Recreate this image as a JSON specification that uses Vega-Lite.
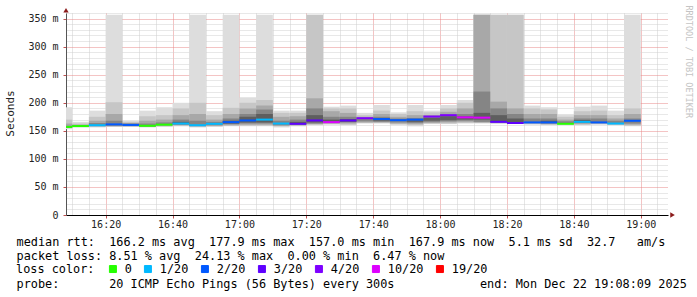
{
  "$schema": "https://vega.github.io/schema/vega-lite/v6.json",
  "width": 602,
  "height": 202,
  "autosize": {"type": "none"},
  "padding": {"left": 66, "top": 13, "right": 29, "bottom": 82},
  "background": "white",
  "config": {"view": {"stroke": null}, "font": "DejaVu Sans Mono"},
  "data": {
    "values": [
      {"t0": "2025-12-22T16:05:00Z", "t1": "2025-12-22T16:10:00Z", "min": 153, "max": 192, "l2lo": 155, "l2hi": 170, "l3lo": 155, "l3hi": 163, "l4lo": 155, "l4hi": 159, "l5lo": null, "l5hi": null, "med": 157.0, "loss": "0"},
      {"t0": "2025-12-22T16:10:00Z", "t1": "2025-12-22T16:15:00Z", "min": 156, "max": 166, "l2lo": 157, "l2hi": 163, "l3lo": 157, "l3hi": 161, "l4lo": 158, "l4hi": 160, "l5lo": null, "l5hi": null, "med": 158.5, "loss": "0"},
      {"t0": "2025-12-22T16:15:00Z", "t1": "2025-12-22T16:20:00Z", "min": 156, "max": 186, "l2lo": 157, "l2hi": 175, "l3lo": 158, "l3hi": 168, "l4lo": 159, "l4hi": 164, "l5lo": null, "l5hi": null, "med": 160, "loss": "1/20"},
      {"t0": "2025-12-22T16:20:00Z", "t1": "2025-12-22T16:25:00Z", "min": 157, "max": 357, "l2lo": 158, "l2hi": 201, "l3lo": 158, "l3hi": 180, "l4lo": 159, "l4hi": 168, "l5lo": null, "l5hi": null, "med": 161.5, "loss": "2/20"},
      {"t0": "2025-12-22T16:25:00Z", "t1": "2025-12-22T16:30:00Z", "min": 157, "max": 168, "l2lo": 158, "l2hi": 166, "l3lo": 158, "l3hi": 164, "l4lo": 159, "l4hi": 163, "l5lo": null, "l5hi": null, "med": 160.5, "loss": "2/20"},
      {"t0": "2025-12-22T16:30:00Z", "t1": "2025-12-22T16:35:00Z", "min": 156, "max": 186, "l2lo": 157, "l2hi": 176, "l3lo": 157, "l3hi": 168, "l4lo": 158, "l4hi": 163, "l5lo": null, "l5hi": null, "med": 159, "loss": "0"},
      {"t0": "2025-12-22T16:35:00Z", "t1": "2025-12-22T16:40:00Z", "min": 157, "max": 192, "l2lo": 158, "l2hi": 178, "l3lo": 159, "l3hi": 170, "l4lo": 160, "l4hi": 165, "l5lo": null, "l5hi": null, "med": 161, "loss": "0"},
      {"t0": "2025-12-22T16:40:00Z", "t1": "2025-12-22T16:45:00Z", "min": 158, "max": 200, "l2lo": 159, "l2hi": 190, "l3lo": 160, "l3hi": 178, "l4lo": 161, "l4hi": 170, "l5lo": 162, "l5hi": 166, "med": 163, "loss": "1/20"},
      {"t0": "2025-12-22T16:45:00Z", "t1": "2025-12-22T16:50:00Z", "min": 156, "max": 357, "l2lo": 157, "l2hi": 200, "l3lo": 158, "l3hi": 180, "l4lo": 159, "l4hi": 168, "l5lo": null, "l5hi": null, "med": 160, "loss": "1/20"},
      {"t0": "2025-12-22T16:50:00Z", "t1": "2025-12-22T16:55:00Z", "min": 157, "max": 185, "l2lo": 158, "l2hi": 178, "l3lo": 159, "l3hi": 170, "l4lo": 160, "l4hi": 166, "l5lo": null, "l5hi": null, "med": 162.5, "loss": "1/20"},
      {"t0": "2025-12-22T16:55:00Z", "t1": "2025-12-22T17:00:00Z", "min": 158, "max": 357, "l2lo": 159, "l2hi": 191, "l3lo": 160, "l3hi": 180, "l4lo": 162, "l4hi": 172, "l5lo": 163, "l5hi": 168, "med": 165.5, "loss": "2/20"},
      {"t0": "2025-12-22T17:00:00Z", "t1": "2025-12-22T17:05:00Z", "min": 158, "max": 209, "l2lo": 159, "l2hi": 200, "l3lo": 161, "l3hi": 190, "l4lo": 163, "l4hi": 180, "l5lo": 165, "l5hi": 175, "med": 168.5, "loss": "2/20"},
      {"t0": "2025-12-22T17:05:00Z", "t1": "2025-12-22T17:10:00Z", "min": 158, "max": 357, "l2lo": 159, "l2hi": 205, "l3lo": 161, "l3hi": 195, "l4lo": 163, "l4hi": 188, "l5lo": 165, "l5hi": 180, "med": 170, "loss": "1/20"},
      {"t0": "2025-12-22T17:10:00Z", "t1": "2025-12-22T17:15:00Z", "min": 156, "max": 186, "l2lo": 158, "l2hi": 182, "l3lo": 159, "l3hi": 175, "l4lo": 160, "l4hi": 168, "l5lo": null, "l5hi": null, "med": 163, "loss": "1/20"},
      {"t0": "2025-12-22T17:15:00Z", "t1": "2025-12-22T17:20:00Z", "min": 158, "max": 186, "l2lo": 159, "l2hi": 182, "l3lo": 160, "l3hi": 176, "l4lo": 161, "l4hi": 170, "l5lo": 162, "l5hi": 166, "med": 162.5, "loss": "3/20"},
      {"t0": "2025-12-22T17:20:00Z", "t1": "2025-12-22T17:25:00Z", "min": 160, "max": 357, "l2lo": 161, "l2hi": 357, "l3lo": 162, "l3hi": 208, "l4lo": 163, "l4hi": 190, "l5lo": 165, "l5hi": 178, "med": 168.5, "loss": "3/20"},
      {"t0": "2025-12-22T17:25:00Z", "t1": "2025-12-22T17:30:00Z", "min": 161, "max": 193, "l2lo": 162, "l2hi": 190, "l3lo": 163, "l3hi": 185, "l4lo": 164, "l4hi": 175, "l5lo": 165, "l5hi": 170, "med": 165.5, "loss": "10/20"},
      {"t0": "2025-12-22T17:30:00Z", "t1": "2025-12-22T17:35:00Z", "min": 160, "max": 195, "l2lo": 161, "l2hi": 190, "l3lo": 163, "l3hi": 182, "l4lo": 165, "l4hi": 175, "l5lo": 166, "l5hi": 171, "med": 168.5, "loss": "3/20"},
      {"t0": "2025-12-22T17:35:00Z", "t1": "2025-12-22T17:40:00Z", "min": 163, "max": 182, "l2lo": 164, "l2hi": 178, "l3lo": 165, "l3hi": 175, "l4lo": 167, "l4hi": 173, "l5lo": null, "l5hi": null, "med": 172.5, "loss": "4/20"},
      {"t0": "2025-12-22T17:40:00Z", "t1": "2025-12-22T17:45:00Z", "min": 163, "max": 196, "l2lo": 164, "l2hi": 186, "l3lo": 165, "l3hi": 180, "l4lo": 166, "l4hi": 175, "l5lo": 168, "l5hi": 172, "med": 171, "loss": "2/20"},
      {"t0": "2025-12-22T17:45:00Z", "t1": "2025-12-22T17:50:00Z", "min": 160, "max": 183, "l2lo": 162, "l2hi": 180, "l3lo": 163, "l3hi": 175, "l4lo": 165, "l4hi": 172, "l5lo": null, "l5hi": null, "med": 169, "loss": "2/20"},
      {"t0": "2025-12-22T17:50:00Z", "t1": "2025-12-22T17:55:00Z", "min": 158, "max": 196, "l2lo": 160, "l2hi": 185, "l3lo": 162, "l3hi": 178, "l4lo": 164, "l4hi": 173, "l5lo": 166, "l5hi": 171, "med": 170, "loss": "2/20"},
      {"t0": "2025-12-22T17:55:00Z", "t1": "2025-12-22T18:00:00Z", "min": 162, "max": 186, "l2lo": 163, "l2hi": 183, "l3lo": 164, "l3hi": 178, "l4lo": 166, "l4hi": 175, "l5lo": 168, "l5hi": 173, "med": 175.5, "loss": "4/20"},
      {"t0": "2025-12-22T18:00:00Z", "t1": "2025-12-22T18:05:00Z", "min": 162, "max": 196, "l2lo": 163, "l2hi": 190, "l3lo": 165, "l3hi": 184, "l4lo": 167, "l4hi": 179, "l5lo": 169, "l5hi": 176, "med": 177.9, "loss": "4/20"},
      {"t0": "2025-12-22T18:05:00Z", "t1": "2025-12-22T18:10:00Z", "min": 163, "max": 205, "l2lo": 164, "l2hi": 200, "l3lo": 166, "l3hi": 190, "l4lo": 168, "l4hi": 180, "l5lo": 170, "l5hi": 176, "med": 174, "loss": "10/20"},
      {"t0": "2025-12-22T18:10:00Z", "t1": "2025-12-22T18:15:00Z", "min": 163, "max": 357, "l2lo": 164, "l2hi": 357, "l3lo": 165, "l3hi": 357, "l4lo": 166, "l4hi": 220, "l5lo": 170, "l5hi": 182, "med": 173.5, "loss": "10/20"},
      {"t0": "2025-12-22T18:15:00Z", "t1": "2025-12-22T18:20:00Z", "min": 163, "max": 357, "l2lo": 163, "l2hi": 357, "l3lo": 164, "l3hi": 202, "l4lo": 165, "l4hi": 190, "l5lo": 166, "l5hi": 178, "med": 166, "loss": "3/20"},
      {"t0": "2025-12-22T18:20:00Z", "t1": "2025-12-22T18:25:00Z", "min": 162, "max": 357, "l2lo": 162, "l2hi": 357, "l3lo": 163, "l3hi": 190, "l4lo": 164, "l4hi": 180, "l5lo": 165, "l5hi": 172, "med": 164, "loss": "3/20"},
      {"t0": "2025-12-22T18:25:00Z", "t1": "2025-12-22T18:30:00Z", "min": 161, "max": 195, "l2lo": 162, "l2hi": 190, "l3lo": 163, "l3hi": 180, "l4lo": 164, "l4hi": 172, "l5lo": null, "l5hi": null, "med": 165, "loss": "2/20"},
      {"t0": "2025-12-22T18:30:00Z", "t1": "2025-12-22T18:35:00Z", "min": 160, "max": 192, "l2lo": 161, "l2hi": 188, "l3lo": 162, "l3hi": 180, "l4lo": 163, "l4hi": 172, "l5lo": 164, "l5hi": 168, "med": 165, "loss": "2/20"},
      {"t0": "2025-12-22T18:35:00Z", "t1": "2025-12-22T18:40:00Z", "min": 161, "max": 179, "l2lo": 162, "l2hi": 175, "l3lo": 162, "l3hi": 170, "l4lo": 163, "l4hi": 167, "l5lo": null, "l5hi": null, "med": 162.5, "loss": "0"},
      {"t0": "2025-12-22T18:40:00Z", "t1": "2025-12-22T18:45:00Z", "min": 160, "max": 193, "l2lo": 161, "l2hi": 185, "l3lo": 162, "l3hi": 178, "l4lo": 164, "l4hi": 172, "l5lo": 165, "l5hi": 169, "med": 166, "loss": "1/20"},
      {"t0": "2025-12-22T18:45:00Z", "t1": "2025-12-22T18:50:00Z", "min": 161, "max": 195, "l2lo": 162, "l2hi": 186, "l3lo": 163, "l3hi": 178, "l4lo": 164, "l4hi": 172, "l5lo": null, "l5hi": null, "med": 165, "loss": "2/20"},
      {"t0": "2025-12-22T18:50:00Z", "t1": "2025-12-22T18:55:00Z", "min": 160, "max": 186, "l2lo": 161, "l2hi": 178, "l3lo": 162, "l3hi": 172, "l4lo": 162, "l4hi": 168, "l5lo": null, "l5hi": null, "med": 163, "loss": "1/20"},
      {"t0": "2025-12-22T18:55:00Z", "t1": "2025-12-22T19:00:00Z", "min": 158, "max": 357, "l2lo": 159, "l2hi": 190, "l3lo": 161, "l3hi": 180, "l4lo": 163, "l4hi": 172, "l5lo": null, "l5hi": null, "med": 167.9, "loss": "2/20"}
    ]
  },
  "layer": [
    {
      "mark": {"type": "bar", "color": "#dddddd", "clip": true},
      "encoding": {
        "x": {
          "field": "t0", "type": "temporal",
          "scale": {"type": "utc", "domain": [
            {"year": 2025, "month": 12, "date": 22, "hours": 16, "minutes": 8, "seconds": 9, "utc": true},
            {"year": 2025, "month": 12, "date": 22, "hours": 19, "minutes": 8, "seconds": 9, "utc": true}
          ]},
          "axis": {
            "title": [
              "median rtt:\u00a0 166.2 ms avg\u00a0 177.9 ms max\u00a0 157.0 ms min\u00a0 167.9 ms now\u00a0 5.1 ms sd\u00a0 32.7\u00a0\u00a0 am/s",
              "packet loss: 8.51 % avg\u00a0 24.13 % max\u00a0 0.00 % min\u00a0 6.47 % now",
              "\u200b",
              "probe:\u00a0\u00a0\u00a0\u00a0\u00a0\u00a0 20 ICMP Echo Pings (56 Bytes) every 300s\u00a0\u00a0\u00a0\u00a0\u00a0\u00a0\u00a0\u00a0\u00a0\u00a0\u00a0 end: Mon Dec 22 19:08:09 2025"
            ],
            "titleFont": "DejaVu Sans Mono", "titleFontSize": 11.85, "titleFontWeight": "normal", "titleColor": "#000000",
            "titleLineHeight": 14, "titleX": -50, "titleY": 21, "titleAlign": "left", "titleBaseline": "top", "titleAngle": 0,
            "values": [
              {"year": 2025, "month": 12, "date": 22, "hours": 16, "minutes": 10, "utc": true},
              {"year": 2025, "month": 12, "date": 22, "hours": 16, "minutes": 15, "utc": true},
              {"year": 2025, "month": 12, "date": 22, "hours": 16, "minutes": 20, "utc": true},
              {"year": 2025, "month": 12, "date": 22, "hours": 16, "minutes": 25, "utc": true},
              {"year": 2025, "month": 12, "date": 22, "hours": 16, "minutes": 30, "utc": true},
              {"year": 2025, "month": 12, "date": 22, "hours": 16, "minutes": 35, "utc": true},
              {"year": 2025, "month": 12, "date": 22, "hours": 16, "minutes": 40, "utc": true},
              {"year": 2025, "month": 12, "date": 22, "hours": 16, "minutes": 45, "utc": true},
              {"year": 2025, "month": 12, "date": 22, "hours": 16, "minutes": 50, "utc": true},
              {"year": 2025, "month": 12, "date": 22, "hours": 16, "minutes": 55, "utc": true},
              {"year": 2025, "month": 12, "date": 22, "hours": 17, "minutes": 0, "utc": true},
              {"year": 2025, "month": 12, "date": 22, "hours": 17, "minutes": 5, "utc": true},
              {"year": 2025, "month": 12, "date": 22, "hours": 17, "minutes": 10, "utc": true},
              {"year": 2025, "month": 12, "date": 22, "hours": 17, "minutes": 15, "utc": true},
              {"year": 2025, "month": 12, "date": 22, "hours": 17, "minutes": 20, "utc": true},
              {"year": 2025, "month": 12, "date": 22, "hours": 17, "minutes": 25, "utc": true},
              {"year": 2025, "month": 12, "date": 22, "hours": 17, "minutes": 30, "utc": true},
              {"year": 2025, "month": 12, "date": 22, "hours": 17, "minutes": 35, "utc": true},
              {"year": 2025, "month": 12, "date": 22, "hours": 17, "minutes": 40, "utc": true},
              {"year": 2025, "month": 12, "date": 22, "hours": 17, "minutes": 45, "utc": true},
              {"year": 2025, "month": 12, "date": 22, "hours": 17, "minutes": 50, "utc": true},
              {"year": 2025, "month": 12, "date": 22, "hours": 17, "minutes": 55, "utc": true},
              {"year": 2025, "month": 12, "date": 22, "hours": 18, "minutes": 0, "utc": true},
              {"year": 2025, "month": 12, "date": 22, "hours": 18, "minutes": 5, "utc": true},
              {"year": 2025, "month": 12, "date": 22, "hours": 18, "minutes": 10, "utc": true},
              {"year": 2025, "month": 12, "date": 22, "hours": 18, "minutes": 15, "utc": true},
              {"year": 2025, "month": 12, "date": 22, "hours": 18, "minutes": 20, "utc": true},
              {"year": 2025, "month": 12, "date": 22, "hours": 18, "minutes": 25, "utc": true},
              {"year": 2025, "month": 12, "date": 22, "hours": 18, "minutes": 30, "utc": true},
              {"year": 2025, "month": 12, "date": 22, "hours": 18, "minutes": 35, "utc": true},
              {"year": 2025, "month": 12, "date": 22, "hours": 18, "minutes": 40, "utc": true},
              {"year": 2025, "month": 12, "date": 22, "hours": 18, "minutes": 45, "utc": true},
              {"year": 2025, "month": 12, "date": 22, "hours": 18, "minutes": 50, "utc": true},
              {"year": 2025, "month": 12, "date": 22, "hours": 18, "minutes": 55, "utc": true},
              {"year": 2025, "month": 12, "date": 22, "hours": 19, "minutes": 0, "utc": true},
              {"year": 2025, "month": 12, "date": 22, "hours": 19, "minutes": 5, "utc": true}
            ],
            "format": "%H:%M",
            "labelExpr": "floor(datum.value / 60000) % 20 === 0 ? datum.label : ''",
            "labelFont": "DejaVu Sans Mono", "labelFontSize": 10, "labelColor": "#222222",
            "labelOverlap": false, "labelFlush": false, "labelPadding": 1,
            "domainColor": "#000000", "domainWidth": 1,
            "tickSize": 3,
            "tickColor": {"condition": {"test": "floor(datum.value / 60000) % 20 === 0", "value": "#c05050"}, "value": "transparent"},
            "grid": true,
            "gridColor": {"condition": {"test": "floor(datum.value / 60000) % 20 === 0", "value": "#e88888"}, "value": "#cccccc"},
            "gridDash": [1, 1], "gridWidth": 1
          }
        },
        "x2": {"field": "t1"},
        "y": {
          "field": "min", "type": "quantitative",
          "scale": {"domain": [0, 360], "nice": false},
          "axis": {
            "title": "Seconds",
            "values": [0, 10, 20, 30, 40, 50, 60, 70, 80, 90, 100, 110, 120, 130, 140, 150, 160, 170, 180, 190, 200, 210, 220, 230, 240, 250, 260, 270, 280, 290, 300, 310, 320, 330, 340, 350, 360],
            "labelExpr": "datum.value % 50 === 0 ? (datum.value === 0 ? '0' : datum.value + ' m') : ''",
            "labelFont": "DejaVu Sans Mono", "labelFontSize": 10, "labelColor": "#222222",
            "labelOverlap": false, "labelPadding": 5,
            "tickSize": 3,
            "tickColor": {"condition": {"test": "datum.value % 50 === 0", "value": "#c05050"}, "value": "transparent"},
            "domainColor": "#555555",
            "grid": true,
            "gridColor": {"condition": {"test": "datum.value % 50 === 0", "value": "#e88888"}, "value": "#d0d0d0"},
            "gridDash": [1, 1], "gridWidth": 1,
            "titleFont": "DejaVu Sans Mono", "titleFontSize": 11, "titleFontWeight": "normal", "titleColor": "#222222",
            "titleX": -56, "titleY": 100, "titleBaseline": "middle", "titleAlign": "center", "titleAngle": -90
          }
        },
        "y2": {"field": "max"}
      }
    },
    {
      "mark": {"type": "bar", "color": "#c6c6c6", "clip": true},
      "encoding": {
        "x": {"field": "t0", "type": "temporal", "axis": null},
        "x2": {"field": "t1"},
        "y": {"field": "l2lo", "type": "quantitative", "axis": null},
        "y2": {"field": "l2hi"}
      }
    },
    {
      "mark": {"type": "bar", "color": "#a8a8a8", "clip": true},
      "encoding": {
        "x": {"field": "t0", "type": "temporal", "axis": null},
        "x2": {"field": "t1"},
        "y": {"field": "l3lo", "type": "quantitative", "axis": null},
        "y2": {"field": "l3hi"}
      }
    },
    {
      "mark": {"type": "bar", "color": "#858585", "clip": true},
      "encoding": {
        "x": {"field": "t0", "type": "temporal", "axis": null},
        "x2": {"field": "t1"},
        "y": {"field": "l4lo", "type": "quantitative", "axis": null},
        "y2": {"field": "l4hi"}
      }
    },
    {
      "mark": {"type": "bar", "color": "#5e5e5e", "clip": true},
      "encoding": {
        "x": {"field": "t0", "type": "temporal", "axis": null},
        "x2": {"field": "t1"},
        "y": {"field": "l5lo", "type": "quantitative", "axis": null},
        "y2": {"field": "l5hi"}
      }
    },
    {
      "mark": {"type": "rule", "strokeWidth": 2, "clip": true},
      "encoding": {
        "x": {"field": "t0", "type": "temporal", "axis": null},
        "x2": {"field": "t1"},
        "y": {
          "field": "med", "type": "quantitative",
          "axis": {
            "orient": "right", "title": "RRDTOOL / TOBI OETIKER",
            "labels": false, "ticks": false, "domain": false, "grid": false,
            "titleFont": "DejaVu Sans Mono", "titleFontSize": 8.5, "titleFontWeight": "normal",
            "titleColor": "#c4c4c4", "titleAngle": 90, "titleX": 20, "titleY": -8,
            "titleAlign": "left", "titleBaseline": "middle"
          }
        },
        "color": {
          "field": "loss", "type": "nominal",
          "scale": {
            "domain": ["0", "1/20", "2/20", "3/20", "4/20", "10/20", "19/20"],
            "range": ["#26ff00", "#00b8ff", "#0059ff", "#5e00ff", "#7e00ff", "#dd00ff", "#ff0000"]
          },
          "legend": {
            "title": "loss color:",
            "orient": "none", "legendX": -50, "legendY": 250,
            "direction": "horizontal",
            "titleOrient": "left",
            "titleFont": "DejaVu Sans Mono", "titleFontSize": 11.85, "titleFontWeight": "normal", "titleColor": "#000000",
            "titlePadding": 12,
            "labelFont": "DejaVu Sans Mono", "labelFontSize": 11.85, "labelColor": "#000000",
            "labelOffset": 6, "columnPadding": 10,
            "symbolType": "square", "symbolSize": 49,
            "symbolStrokeColor": "#000000", "symbolStrokeWidth": 1,
            "encode": {"symbols": {"update": {
              "fill": {"scale": "color", "field": "value"},
              "fillOpacity": {"value": 1},
              "stroke": {"value": "#000000"},
              "strokeWidth": {"value": 1}
            }}}
          }
        }
      }
    },
    {
      "data": {"values": [{}]},
      "mark": {"type": "point", "shape": "triangle-up", "filled": true, "color": "#8b1a1a", "size": 28, "opacity": 1, "clip": false},
      "encoding": {
        "x": {"datum": {"year": 2025, "month": 12, "date": 22, "hours": 16, "minutes": 8, "seconds": 9, "utc": true}, "type": "temporal", "axis": null},
        "y": {"datum": 365, "type": "quantitative", "axis": null}
      }
    },
    {
      "data": {"values": [{}]},
      "mark": {"type": "point", "shape": "triangle-right", "filled": true, "color": "#8b1a1a", "size": 28, "opacity": 1, "clip": false},
      "encoding": {
        "x": {"datum": {"year": 2025, "month": 12, "date": 22, "hours": 19, "minutes": 9, "seconds": 30, "utc": true}, "type": "temporal", "axis": null},
        "y": {"datum": 0, "type": "quantitative", "axis": null}
      }
    }
  ],
  "resolve": {"axis": {"x": "independent", "y": "independent"}}
}
